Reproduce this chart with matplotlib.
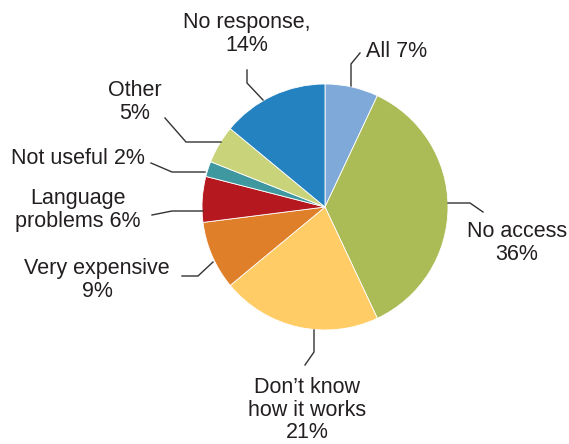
import matplotlib
matplotlib.use("Agg")
import matplotlib.pyplot as plt

categories = ["All", "No access", "Don\u2019t know how it works", "Very expensive",
              "Language problems", "Not useful", "Other", "No response"]
values = [7, 36, 21, 9, 6, 2, 5, 14]
labels = ["All 7%", "No access\n36%", "Don\u2019t know\nhow it works\n21%",
          "Very expensive\n9%", "Language\nproblems 6%", "Not useful 2%",
          "Other\n5%", "No response,\n14%"]
colors = ["#7FA9D9", "#ABBB55", "#FFCC66", "#E07F2A",
          "#B5191F", "#3F98A0", "#C9D47A", "#2582C1"]

W, H = 569, 444
fig = plt.figure(figsize=(W / 100, H / 100), dpi=100)
ax = fig.add_axes([0, 0, 1, 1])

def P(x, y):
    # pixel coordinates measured from the top-left corner
    return (x, H - y)

cx, cy, r = 325, 207, 123
ax.pie(values, colors=colors, startangle=90, counterclock=False,
       center=P(cx, cy), radius=r,
       wedgeprops=dict(edgecolor="white", linewidth=0.6))
ax.set_xlim(0, W)
ax.set_ylim(0, H)
ax.set_aspect("equal")
ax.axis("off")

# leader lines: (polyline points, text position, alignment)
leaders = [
    ([(351, 86), (351, 64), (360, 53)], (366, 52), "left"),
    ([(448, 203), (470, 203), (483, 212)], (517, 243), "center"),
    ([(314, 330), (314, 352), (305, 365)], (307, 410), "center"),
    ([(213, 262), (198, 276), (182, 276)], (97, 280), "center"),
    ([(203, 211), (172, 211), (152, 215)], (78, 210), "center"),
    ([(205, 172), (172, 172), (151, 163)], (78, 158), "center"),
    ([(221, 142), (186, 142), (165, 118)], (135, 102), "center"),
    ([(263, 100), (247, 83), (247, 70)], (247, 34), "center"),
]

txt_color = "#231F20"
for (pts, tpos, ha), lab in zip(leaders, labels):
    xs = [p[0] for p in pts]
    ys = [H - p[1] for p in pts]
    ax.plot(xs, ys, color="#333333", lw=1.0, solid_joinstyle="miter")
    ax.text(*P(*tpos), lab, ha=ha, va="center", fontsize=15.5,
            color=txt_color, family="Liberation Sans", linespacing=1.1)

fig.savefig("out.png", dpi=100)
